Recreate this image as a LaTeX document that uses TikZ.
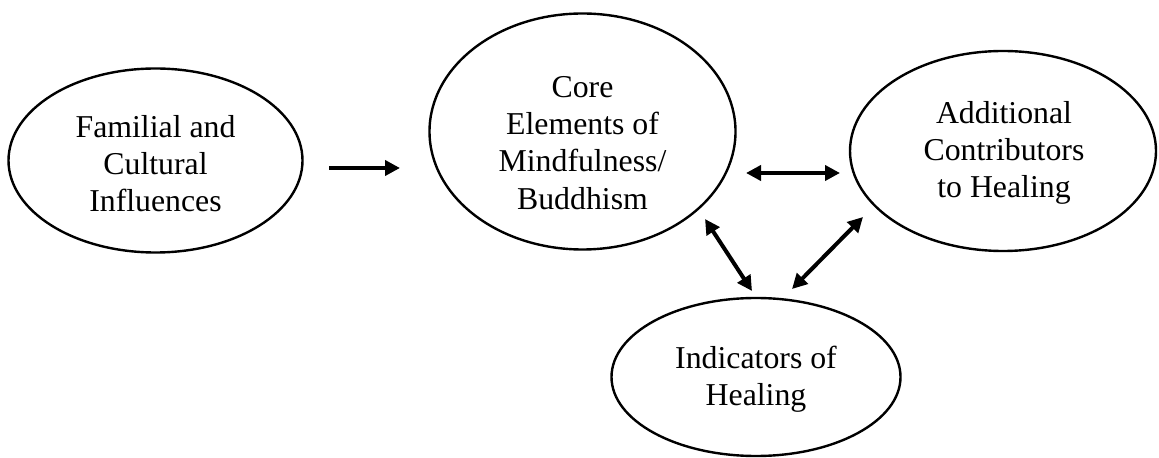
\documentclass[tikz,border=0pt]{standalone}
\usepackage{fontspec}
\setmainfont{Liberation Serif}
\usetikzlibrary{shapes.geometric,arrows.meta}
\tikzset{
  oval/.style={draw=black, line width=1.2pt, ellipse, inner sep=0pt},
  lbl/.style={align=center, inner sep=0pt, font=\fontsize{15.9pt}{18.6pt}\selectfont},
  link/.style={line width=2pt, -{Triangle[length=7.5pt,width=7.5pt]}},
  dlink/.style={line width=2pt, {Triangle[length=7.5pt,width=7.5pt]}-{Triangle[length=7.5pt,width=7.5pt]}}
}
\begin{document}
\begin{tikzpicture}[x=0.5pt,y=-0.5pt]
\useasboundingbox (0,0) rectangle (1159,458);
% ellipses
\node[oval, minimum width=147pt, minimum height=92pt] (fam) at (155.5,160.5) {};
\node[oval, minimum width=153pt, minimum height=118pt] (core) at (582.5,131.5) {};
\node[oval, minimum width=153pt, minimum height=100pt] (add) at (1003,151) {};
\node[oval, minimum width=144.5pt, minimum height=79pt] (ind) at (756,377) {};
% texts
\node[lbl] (famt) at (155.5,163.5) {Familial and\\Cultural\\Influences};
\node[lbl] (coret) at (582.5,143) {Core\\Elements of\\Mindfulness/\\Buddhism};
\node[lbl] (addt) at (1004,153) {Additional\\Contributors\\to Healing};
\node[lbl] (indt) at (756,379) {Indicators of\\Healing};
% arrow ends
\coordinate (a1s) at (329,168);
\coordinate (a1e) at (400,168);
\coordinate (a2s) at (746,173);
\coordinate (a2e) at (840,173);
\coordinate (a3s) at (705,219);
\coordinate (a3e) at (752,291);
\coordinate (a4s) at (863,217);
\coordinate (a4e) at (792,289);
\draw[link] (a1s) -- (a1e);
\draw[dlink] (a2s) -- (a2e);
\draw[dlink] (a3s) -- (a3e);
\draw[dlink] (a4s) -- (a4e);
\end{tikzpicture}
\end{document}
